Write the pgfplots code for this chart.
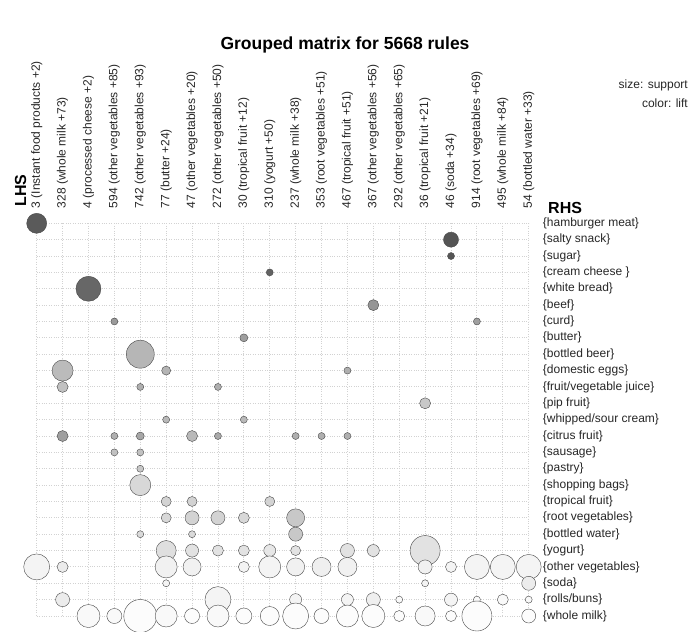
\documentclass[border=0pt]{standalone}
\usepackage{pgfplots}
\pgfplotsset{compat=1.18}
\usepackage{pgfplotstable}
\usepackage{fontspec}
\setmainfont{Liberation Sans}

\pgfplotstableread{
x y r g
1 1 10 0.35
17 2 7.5 0.33
17 3 3.5 0.33
10 4 3.5 0.38
3 5 12.5 0.40
14 6 5.5 0.58
4 7 3.5 0.60
18 7 3.5 0.62
9 8 4 0.62
5 9 14 0.71
2 10 10.5 0.73
6 10 4.5 0.70
13 10 3.5 0.68
2 11 5.5 0.75
5 11 3.5 0.68
8 11 3.5 0.68
16 12 5.5 0.78
6 13 3.5 0.72
9 13 3.5 0.72
2 14 5.5 0.62
4 14 3.5 0.68
5 14 4 0.65
7 14 5.5 0.72
8 14 3.5 0.66
11 14 3.5 0.68
12 14 3.5 0.68
13 14 3.5 0.68
4 15 3.5 0.75
5 15 3.5 0.75
5 16 3.5 0.78
5 17 10.5 0.84
6 18 5 0.82
7 18 5 0.82
10 18 5 0.82
6 19 5 0.84
7 19 7 0.82
8 19 7 0.82
9 19 5.5 0.84
11 19 9 0.78
5 20 3.5 0.85
7 20 3.5 0.85
11 20 7 0.78
6 21 10 0.87
7 21 6.5 0.88
8 21 5.5 0.88
9 21 5.5 0.88
10 21 6 0.90
11 21 5 0.88
13 21 7 0.88
14 21 6 0.88
16 21 15 0.88
1 22 13 0.95
2 22 5.5 0.92
6 22 11 0.94
7 22 9 0.94
9 22 5.5 0.95
10 22 11 0.95
11 22 9 0.94
12 22 9.5 0.93
13 22 9.5 0.94
16 22 7 0.94
17 22 5.5 0.95
18 22 12.5 0.95
19 22 12.5 0.95
20 22 12.5 0.95
6 23 3.5 0.95
16 23 3.5 0.95
20 23 7 0.92
2 24 7 0.92
8 24 13 0.95
11 24 6 0.95
13 24 6 0.95
14 24 7 0.93
15 24 3.5 0.97
17 24 6.5 0.95
18 24 3.5 0.97
19 24 5.5 0.97
20 24 3.5 0.97
3 25 11.5 0.97
4 25 7.5 0.97
5 25 16.5 0.98
6 25 11 0.97
7 25 7.5 0.98
8 25 11 0.97
9 25 8 0.98
10 25 9.5 0.98
11 25 13 0.98
12 25 7.5 0.98
13 25 11 0.98
14 25 11.5 0.98
15 25 5.5 0.98
16 25 10 0.97
17 25 5.5 0.98
18 25 15 0.98
20 25 7 0.98
}\bubbles

\begin{document}
\begin{tikzpicture}
\useasboundingbox (0,0) rectangle (692bp,-632bp);
\begin{axis}[
  at={(36.7bp,-616bp)}, anchor=south west,
  scale only axis, width=492bp, height=392.7bp,
  xmin=1, xmax=20, ymin=1, ymax=25, y dir=reverse,
  clip=false,
  axis line style={draw=none},
  major tick length=0pt,
  grid=major,
  major grid style={gray!35, line width=0.9bp, dash pattern=on 1bp off 1.4bp},
  xtick={1,...,20}, ytick={1,...,25},
  xticklabel pos=upper, yticklabel pos=right,
  xticklabel shift=15bp, yticklabel shift=14bp,
  x tick label style={rotate=90, anchor=west, inner sep=0pt, font=\fontsize{12bp}{14bp}\selectfont, text=black!85},
  y tick label style={anchor=west, inner sep=0pt, font=\fontsize{12bp}{14bp}\selectfont, text=black!85},
  xticklabels={3 (Instant food products +2),328 (whole milk +73),4 (processed cheese +2),594 (other vegetables +85),742 (other vegetables +93),77 (butter +24),47 (other vegetables +20),272 (other vegetables +50),30 (tropical fruit +12),310 (yogurt +50),237 (whole milk +38),353 (root vegetables +51),467 (tropical fruit +51),367 (other vegetables +56),292 (other vegetables +65),36 (tropical fruit +21),46 (soda +34),914 (root vegetables +69),495 (whole milk +84),54 (bottled water +33)},
  yticklabels={\{hamburger meat\},\{salty snack\},\{sugar\},\{cream cheese \},\{white bread\},\{beef\},\{curd\},\{butter\},\{bottled beer\},\{domestic eggs\},\{fruit/vegetable juice\},\{pip fruit\},\{whipped/sour cream\},\{citrus fruit\},\{sausage\},\{pastry\},\{shopping bags\},\{tropical fruit\},\{root vegetables\},\{bottled water\},\{yogurt\},\{other vegetables\},\{soda\},\{rolls/buns\},\{whole milk\}},
  colormap={mygray}{gray(0cm)=(0); gray(1cm)=(1)},
  point meta min=0, point meta max=1,
]
\addplot[scatter, only marks, mark=*,
  point meta=\thisrow{g},
  visualization depends on={\thisrow{r} \as \rad},
  scatter/use mapped color={draw=black!72, fill=mapped color},
  scatter/@pre marker code/.append style={/tikz/mark size=\rad bp, /tikz/line width=1.25bp},
] table[x=x, y=y] {\bubbles};
\end{axis}
\node[font=\bfseries\fontsize{17.5bp}{20bp}\selectfont] at (345bp,-45bp) {Grouped matrix for 5668 rules};
\node[anchor=east, inner sep=0pt, font=\fontsize{12bp}{14bp}\selectfont, text=black!85] at (688bp,-85bp) {size: support};
\node[anchor=east, inner sep=0pt, font=\fontsize{12bp}{14bp}\selectfont, text=black!85] at (688bp,-103bp) {color: lift};
\node[anchor=base west, rotate=90, inner sep=0pt, font=\bfseries\fontsize{16bp}{18bp}\selectfont] at (26bp,-206.7bp) {LHS};
\node[anchor=base west, inner sep=0pt, font=\bfseries\fontsize{16bp}{18bp}\selectfont] at (548bp,-213.3bp) {RHS};
\end{tikzpicture}
\end{document}
